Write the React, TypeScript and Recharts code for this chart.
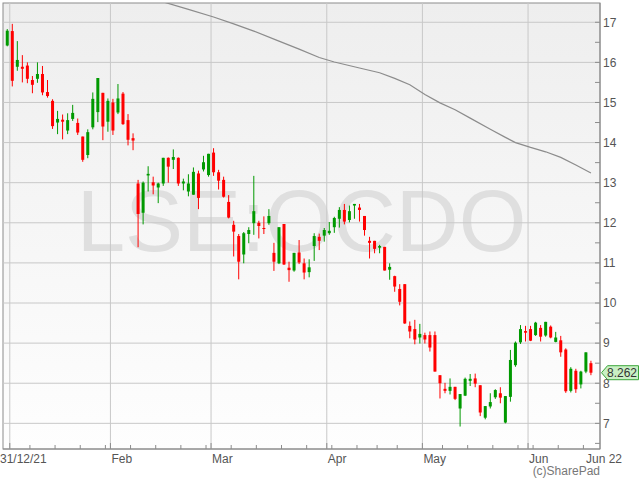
import { ComposedChart, Bar, Line, XAxis, YAxis, CartesianGrid, ReferenceLine } from 'recharts';

// Daily OHLC, 31/12/21 .. 21/06/22 (one entry per trading day)
const OPEN = [
  16.42, 16.78, 15.89, 15.89, 15.92, 15.56, 15.59, 15.71, 15.26, 15.04,
  14.5, 14.57, 14.3, 14.59, 14.49, 14.15, 13.69, 14.38, 14.76, 15.24,
  14.52, 15.0, 14.75, 15.22, 14.56, 14.11, 12.98, 12.25, 13.18, 13.01,
  12.88, 12.98, 13.62, 13.57, 13.62, 12.98, 12.78, 12.7, 13.23, 13.33,
  13.19, 13.75, 13.26, 13.07, 12.52, 11.95, 11.67, 11.21, 11.72, 11.99,
  12.0, 11.87, 11.99, 11.25, 10.99, 11.97, 10.88, 10.81, 11.26, 10.99,
  10.77, 11.42, 11.65, 11.68, 11.74, 11.89, 12.1, 12.32, 12.07, 12.43,
  12.38, 12.17, 11.55, 11.55, 11.38, 11.4, 10.83, 10.67, 10.35, 10.47,
  9.43, 9.35, 9.14, 9.2, 9.2, 9.2, 8.2, 7.86, 7.81, 7.91,
  7.37, 7.69, 8.06, 8.12, 7.95, 7.14, 7.42, 7.65, 7.75, 7.02,
  7.66, 8.45, 9.02, 9.3, 9.35, 9.2, 9.38, 9.19, 9.41, 9.03,
  9.07, 8.84, 7.81, 8.31, 7.97, 8.29, 8.5,
];
const HIGH = [
  16.83, 16.96, 16.53, 16.18, 16.0, 15.66, 16.0, 15.91, 15.56, 15.08,
  14.79, 14.7, 14.73, 14.94, 14.6, 14.15, 14.33, 15.25, 15.61, 15.24,
  15.1, 15.09, 15.46, 15.26, 14.71, 14.23, 13.07, 13.03, 13.41, 13.15,
  13.0, 13.62, 13.63, 13.83, 13.63, 13.1, 13.21, 13.38, 13.3, 13.67,
  13.72, 13.86, 13.32, 13.15, 12.69, 12.05, 11.72, 11.77, 11.89, 13.17,
  12.05, 12.16, 12.34, 11.5, 11.89, 11.97, 11.03, 11.25, 11.57, 11.11,
  11.09, 11.74, 11.73, 11.87, 12.02, 12.15, 12.39, 12.47, 12.43, 12.47,
  12.47, 12.17, 11.65, 11.55, 11.45, 11.4, 10.99, 10.68, 10.47, 10.47,
  9.54, 9.58, 9.48, 9.26, 9.29, 9.29, 8.2, 8.01, 8.12, 7.91,
  7.73, 8.14, 8.23, 8.24, 7.95, 7.43, 7.75, 7.85, 7.9, 7.68,
  8.83, 9.04, 9.45, 9.43, 9.43, 9.53, 9.45, 9.53, 9.44, 9.28,
  9.18, 8.87, 8.4, 8.36, 8.31, 8.77, 8.56,
];
const LOW = [
  16.4, 15.4, 15.79, 15.5, 15.48, 15.23, 15.49, 15.18, 15.12, 14.34,
  14.21, 14.08, 14.21, 14.54, 14.19, 13.52, 13.61, 14.33, 14.51, 14.06,
  14.27, 14.19, 14.71, 14.44, 13.93, 13.81, 11.39, 11.96, 12.78, 12.71,
  12.49, 12.92, 13.0, 13.34, 12.92, 12.81, 12.66, 12.7, 12.34, 13.28,
  13.15, 13.17, 12.83, 12.63, 12.11, 11.16, 10.59, 10.99, 11.49, 11.7,
  11.61, 11.72, 11.95, 10.8, 10.97, 10.95, 10.53, 10.78, 10.97, 10.59,
  10.64, 11.05, 11.32, 11.53, 11.7, 11.75, 11.88, 11.96, 12.01, 12.1,
  12.03, 11.68, 11.11, 11.24, 11.24, 10.81, 10.58, 10.28, 9.94, 9.48,
  9.12, 8.97, 8.99, 8.99, 8.79, 8.29, 7.62, 7.75, 7.72, 7.58,
  6.92, 7.68, 7.93, 7.9, 7.18, 7.1, 7.37, 7.61, 7.5, 7.0,
  7.54, 8.41, 8.98, 9.04, 9.05, 9.18, 9.04, 9.16, 9.12, 9.02,
  8.66, 7.76, 7.77, 7.76, 7.87, 8.25, 8.2,
];
const CLOSE = [
  16.79, 15.54, 16.06, 15.84, 15.59, 15.44, 15.71, 15.25, 15.16, 14.41,
  14.59, 14.52, 14.56, 14.74, 14.25, 13.57, 14.26, 15.09, 15.61, 14.4,
  15.04, 14.3, 15.1, 14.46, 14.07, 14.05, 12.22, 13.0, 13.22, 12.93,
  12.98, 13.62, 13.4, 13.64, 12.98, 13.03, 12.98, 13.27, 12.62, 13.51,
  13.72, 13.26, 13.05, 12.65, 12.13, 11.78, 11.03, 11.74, 11.82, 12.29,
  11.92, 11.85, 12.17, 11.03, 11.89, 10.96, 10.82, 11.25, 11.01, 10.76,
  10.89, 11.67, 11.55, 11.82, 11.8, 12.12, 12.32, 12.03, 12.29, 12.47,
  12.32, 11.82, 11.5, 11.35, 11.42, 10.81, 10.9, 10.41, 10.03, 9.49,
  9.29, 9.09, 9.23, 9.09, 8.89, 8.29, 8.0, 7.81, 7.91, 7.61,
  7.73, 8.11, 8.11, 7.99, 7.27, 7.43, 7.53, 7.83, 7.64, 7.68,
  8.58, 9.01, 9.35, 9.26, 9.06, 9.51, 9.16, 9.53, 9.14, 9.14,
  8.77, 7.8, 8.36, 7.85, 8.29, 8.77, 8.262,
];

// moving average (grey line), sampled at trading-day index
const MA_INDEX = [28, 32, 36, 41, 45, 49, 54, 58, 62, 65, 70, 74, 77, 80, 83, 86, 89, 92, 96, 99, 101, 104, 107, 110, 113, 116];
const MA_VALUE = [17.62, 17.47, 17.32, 17.13, 16.96, 16.78, 16.53, 16.33, 16.12, 16.01, 15.86, 15.74, 15.6, 15.44, 15.2, 14.99, 14.82, 14.61, 14.33, 14.13, 14.0, 13.88, 13.77, 13.63, 13.44, 13.24];

const FIRST_DAY = '2021-12-31';
const HOLIDAYS = ['2022-01-03', '2022-04-15', '2022-04-18', '2022-05-02', '2022-06-02', '2022-06-03'];
const MONTH_LABELS = ['31/12/21', 'Feb', 'Mar', 'Apr', 'May', 'Jun'];
const END_LABEL = 'Jun 22';
const WATERMARK = 'LSE:OCDO';
const COPYRIGHT = '(c)SharePad';

const Y_TICKS = [6.5, 7, 7.5, 8, 8.5, 9, 9.5, 10, 10.5, 11, 11.5, 12, 12.5, 13, 13.5, 14, 14.5, 15, 15.5, 16, 16.5, 17];
const Y_GRID = [7, 8, 9, 10, 11, 12, 13, 14, 15, 16, 17];

const X_MIN = -0.85;
const X_MAX = 117.8;
const Y_MIN = 6.36;
const Y_MAX = 17.48;

const UP = '#009900';
const DOWN = '#ff0000';
const AXIS = '#8c8c8c';
const FONT = "'Liberation Sans', Arial, sans-serif";

function tradingDays(n: number) {
  const out: string[] = [];
  const d = new Date(FIRST_DAY + 'T00:00:00Z');
  while (out.length < n) {
    const iso = d.toISOString().slice(0, 10);
    const wd = d.getUTCDay();
    if (wd !== 0 && wd !== 6 && !HOLIDAYS.includes(iso)) out.push(iso);
    d.setUTCDate(d.getUTCDate() + 1);
  }
  return out;
}

function weekKey(iso: string) {
  const d = new Date(iso + 'T00:00:00Z');
  const wd = (d.getUTCDay() + 6) % 7;
  d.setUTCDate(d.getUTCDate() - wd);
  return d.toISOString().slice(0, 10);
}

const DATES = tradingDays(CLOSE.length);

const CANDLES = DATES.map((date, i) => ({
  i,
  date,
  o: OPEN[i],
  h: HIGH[i],
  l: LOW[i],
  c: CLOSE[i],
}));

const MA = MA_INDEX.map((i, k) => ({ i, ma: MA_VALUE[k] }));

// ticks sit between candles, at the first trading day of each week / month
type XT = { value: number; label: string | null; major: boolean; first?: boolean; end?: boolean };
const X_TICKS: XT[] = [];
{
  let m = 0;
  for (let i = 1; i < DATES.length; i++) {
    const newMonth = DATES[i].slice(5, 7) !== DATES[i - 1].slice(5, 7);
    const newWeek = weekKey(DATES[i]) !== weekKey(DATES[i - 1]);
    if (newMonth || newWeek) {
      X_TICKS.push({
        value: i - 0.5,
        label: newMonth ? MONTH_LABELS[m] : null,
        major: newMonth,
        first: newMonth && m === 0,
      });
      if (newMonth) m++;
    }
  }
  X_TICKS.push({ value: X_MAX, label: END_LABEL, major: false, end: true });
}
const MONTH_GRID = X_TICKS.filter(t => t.major).map(t => t.value);

function Candle(props: any) {
  const { x, y, width, height, payload } = props;
  if (!payload) return null;
  const { o, h, l, c } = payload;
  const top = Math.min(y, y + height);
  const full = Math.abs(height);
  const color = c >= o ? UP : DOWN;
  const cx = x + width / 2;
  const perUnit = h === l ? 0 : full / (h - l);
  const bodyTop = top + (h - Math.max(o, c)) * perUnit;
  const bodyBot = top + (h - Math.min(o, c)) * perUnit;
  return (
    <g>
      <line x1={cx} x2={cx} y1={top} y2={top + full} stroke={color} strokeWidth={1} />
      <rect x={x} y={bodyTop} width={width} height={Math.max(1, bodyBot - bodyTop)} fill={color} />
    </g>
  );
}

function XTick(props: any) {
  const { x, y, payload } = props;
  const t = X_TICKS.find(k => Math.abs(k.value - payload.value) < 1e-6);
  if (!t) return null;
  return (
    <g>
      {!t.end && <line x1={x} x2={x} y1={y - (t.major ? 6 : 4)} y2={y} stroke={AXIS} />}
      {t.label && (
        <text
          x={t.first ? 0 : t.end ? x + 4 : x + 1}
          y={y + 13.5}
          textAnchor={t.end ? 'middle' : 'start'}
          fontFamily={FONT}
          fontSize={12}
          fill="#555"
        >
          {t.label}
        </text>
      )}
    </g>
  );
}

function YTick(props: any) {
  const { x, y, payload } = props;
  const v = payload.value;
  return (
    <g>
      <line x1={x - 5} x2={x} y1={y} y2={y} stroke={AXIS} />
      {Number.isInteger(v) && (
        <text x={x + 3} y={y} dy="0.36em" fontFamily={FONT} fontSize={12} fill="#555">
          {v}
        </text>
      )}
    </g>
  );
}

function PriceTag(props: any) {
  const vb = props.viewBox;
  if (!vb) return null;
  const x0 = vb.x + vb.width + 1.5;
  const cy = vb.y;
  const pts = [
    [x0, cy],
    [x0 + 6, cy - 7],
    [x0 + 37, cy - 7],
    [x0 + 37, cy + 7],
    [x0 + 6, cy + 7],
  ].map(p => p.join(',')).join(' ');
  return (
    <g>
      <polygon points={pts} fill="#c9f0c4" stroke="#3aa53a" strokeWidth={1} />
      <text x={x0 + 5.5} y={cy} dy="0.36em" fontFamily={FONT} fontSize={12} fill="#333">
        {CLOSE[CLOSE.length - 1].toFixed(3)}
      </text>
    </g>
  );
}

export default function App() {
  return (
    <div style={{ position: 'absolute', left: 0, top: 0, width: 640, height: 480, background: '#fff' }}>
      <svg width={640} height={480} style={{ position: 'absolute', left: 0, top: 0 }}>
        <defs>
          <linearGradient id="plotBg" x1="0" y1="0" x2="0" y2="1">
            <stop offset="0%" stopColor="#eeeeee" />
            <stop offset="100%" stopColor="#fefefe" />
          </linearGradient>
        </defs>
        <rect x={3} y={3} width={597} height={446} fill="url(#plotBg)" stroke={AXIS} strokeWidth={1} />
        <text x={301.5} y={251} textAnchor="middle" fontFamily={FONT} fontSize={87} fill="#dfdfdf">
          {WATERMARK}
        </text>
        <text x={600} y={475} textAnchor="end" fontFamily={FONT} fontSize={12} fill="#777">
          {COPYRIGHT}
        </text>
      </svg>
      <ComposedChart
        width={640}
        height={480}
        data={CANDLES}
        margin={{ top: 3, right: 0, bottom: 1, left: 3 }}
        style={{ position: 'absolute', left: 0, top: 0 }}
      >
        <CartesianGrid stroke="#c8c8c8" horizontalValues={Y_GRID} verticalValues={MONTH_GRID} />
        <XAxis
          dataKey="i"
          type="number"
          domain={[X_MIN, X_MAX]}
          allowDataOverflow
          ticks={X_TICKS.map(t => t.value)}
          interval={0}
          tickLine={false}
          tickSize={0}
          tickMargin={0}
          axisLine={{ stroke: AXIS }}
          height={30}
          tick={<XTick />}
        />
        <YAxis
          orientation="right"
          type="number"
          domain={[Y_MIN, Y_MAX]}
          allowDataOverflow
          ticks={Y_TICKS}
          interval={0}
          tickLine={false}
          tickSize={0}
          tickMargin={0}
          axisLine={{ stroke: AXIS }}
          width={40}
          tick={<YTick />}
        />
        <Line
          data={MA}
          dataKey="ma"
          type="linear"
          stroke="#8c8c8c"
          strokeWidth={1.2}
          dot={false}
          isAnimationActive={false}
        />
        <Bar
          dataKey={(d: any) => [d.l, d.h]}
          barSize={3}
          shape={<Candle />}
          isAnimationActive={false}
        />
        <ReferenceLine y={CLOSE[CLOSE.length - 1]} stroke="none" label={<PriceTag />} />
      </ComposedChart>
    </div>
  );
}
